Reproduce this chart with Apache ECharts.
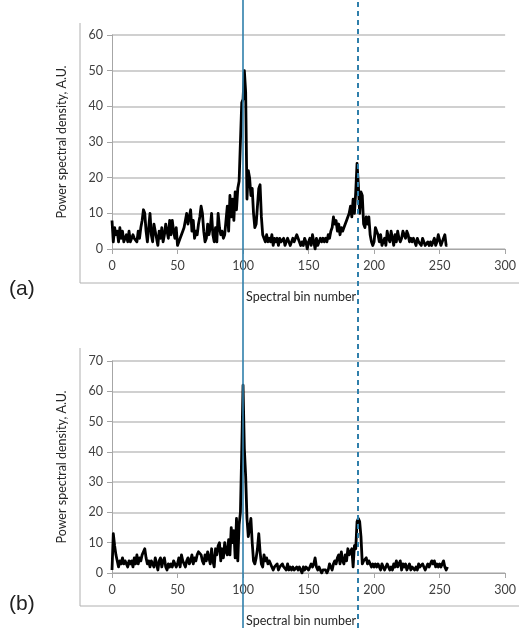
<!DOCTYPE html>
<html><head><meta charset="utf-8">
<script src="https://cdn.jsdelivr.net/npm/echarts@6/dist/echarts.min.js"></script>
<style>html,body{margin:0;padding:0;background:#fff}#c{width:519px;height:628px}</style>
</head><body><div id="c"></div>
<script>
// Panel (a): power spectral density per spectral bin (bins 0..256)
const psdA = [
 8,2,6,4,5,2,6,3,5,2,
 3,4,2,5,2,3,4,3,3,2,
 5,3,6,8,11,10,5,2,6,10,
 4,2,7,5,3,1,5,3,6,2,
 4,7,5,3,8,4,8,5,3,6,
 1,1,3,4,5,6,8,10,7,9,
 11,5,8,3,5,4,7,9,12,10,
 5,2,3,7,4,6,10,4,2,6,
 2,10,6,4,5,3,4,4,12,5,
 15,9,14,8,16,11,17,19,30,41,
 42,50,44,14,22,20,15,17,10,6,
 7,12,17,18,9,4,3,2,4,2,
 3,2,4,1,3,2,3,1,3,2,
 2,3,1,2,3,2,1,2,3,2,
 3,4,3,2,1,2,1,3,2,0,
 2,3,1,4,2,0,3,1,2,3,
 2,3,2,3,2,4,3,5,6,9,
 7,8,5,7,4,6,5,6,7,8,
 8,10,12,9,14,10,16,24,18,10,
 16,15,7,6,9,7,9,4,2,1,
 2,6,5,4,2,4,1,2,3,1,
 5,3,2,5,3,1,4,2,5,3,
 2,3,5,4,3,5,4,2,3,2,
 3,2,1,3,2,2,1,3,2,1,
 1,2,1,2,1,1,3,1,2,4,
 4,1,2,3,4,1,1
];
// Panel (b)
const psdB = [
 1,13,9,6,6,2,4,3,5,3,
 4,3,2,4,3,4,2,5,3,6,
 3,5,4,6,7,8,5,3,4,2,
 4,3,2,5,3,1,4,5,2,4,
 5,2,1,3,2,3,2,4,3,2,
 3,5,2,6,4,3,2,4,5,3,
 4,6,3,5,4,6,7,7,6,4,
 3,6,4,7,5,3,8,4,2,8,
 6,9,10,4,8,5,10,7,6,11,
 6,15,10,14,5,18,4,16,20,40,
 62,41,32,18,12,15,18,10,4,3,
 5,8,13,7,3,2,6,4,5,3,
 4,3,2,1,2,2,3,1,2,2,
 3,2,2,1,3,1,2,1,2,1,
 1,2,1,2,1,0,2,1,2,2,
 1,2,3,2,3,5,2,1,2,1,
 0,1,1,1,0,1,3,2,1,3,
 4,3,5,6,3,7,4,3,6,4,
 8,6,7,8,2,9,8,17,18,17,
 12,3,4,4,5,3,4,3,2,3,
 2,3,2,3,2,1,3,2,1,2,
 3,2,1,2,1,3,2,4,2,3,
 4,1,3,2,3,1,2,3,1,2,
 2,1,2,1,3,2,2,3,2,1,
 2,3,2,3,4,3,4,2,3,2,
 3,2,3,4,2,1,2
];
const xMin = 0, xMax = 300, xStep = 50;
const yMaxA = 60, yMaxB = 70, yStep = 10;
const markerBins = [99.2, 186.6];
const panelLabels = ['(a)', '(b)'];
const xName = 'Spectral bin number';
const yName = 'Power spectral density, A.U.';

const FONT = 'Lato, "Open Sans", sans-serif';
const gridCol = '#c0c0c0', axisCol = '#a6a6a6', txtCol = '#404040';

function xAx(gi) {
  return {
    type: 'value', gridIndex: gi, min: xMin, max: xMax, interval: xStep,
    axisLine: { show: true, onZero: false, lineStyle: { color: axisCol, width: 1 } },
    axisTick: { show: true, length: 5, lineStyle: { color: axisCol } },
    splitLine: { show: false },
    axisLabel: { color: txtCol, fontSize: 12.5, fontFamily: FONT, margin: 10 },
    name: xName, nameLocation: 'middle', nameGap: 41,
    nameTextStyle: { color: '#262626', fontSize: 12.5, fontFamily: FONT, padding: [0, 15, 0, 0] }
  };
}
function yAx(gi, max) {
  return {
    type: 'value', gridIndex: gi, min: 0, max: max, interval: yStep,
    axisLine: { show: true, lineStyle: { color: axisCol, width: 1 } },
    axisTick: { show: true, length: 5, lineStyle: { color: axisCol } },
    splitLine: { show: true, lineStyle: { color: gridCol, width: 1.5 } },
    axisLabel: { color: txtCol, fontSize: 12.5, fontFamily: FONT, margin: 9 },
    name: yName, nameLocation: 'middle', nameGap: 44,
    nameTextStyle: { color: '#262626', fontSize: 12.5, fontFamily: FONT }
  };
}
function lineSeries(arr, gi) {
  return {
    type: 'line', xAxisIndex: gi, yAxisIndex: gi,
    data: arr.map((v, i) => [i, v]),
    showSymbol: false, symbol: 'none', silent: true,
    lineStyle: { color: '#000', width: 2.8, join: 'round' }
  };
}

const chart = echarts.init(document.getElementById('c'), null, { renderer: 'canvas' });
chart.setOption({
  animation: false,
  backgroundColor: '#fff',
  grid: [
    { left: 112, right: 12, top: 35, height: 214 },
    { left: 112, right: 12, top: 361, height: 213 },
    { left: 112, right: 12, top: 0, bottom: 0 }
  ],
  xAxis: [xAx(0), xAx(1), { type: 'value', gridIndex: 2, min: xMin, max: xMax, show: false }],
  yAxis: [yAx(0, yMaxA), yAx(1, yMaxB), { type: 'value', gridIndex: 2, min: 0, max: 1, show: false }],
  series: [
    lineSeries(psdA, 0),
    lineSeries(psdB, 1),
    {
      type: 'line', xAxisIndex: 2, yAxisIndex: 2, data: [], silent: true, z: 10,
      markLine: {
        symbol: 'none', silent: true, animation: false,
        label: { show: false },
        data: [
          { xAxis: markerBins[0], lineStyle: { color: '#2f7fab', width: 1.6, type: 'solid' } },
          { xAxis: markerBins[1], lineStyle: { color: '#2f7fab', width: 2, type: [5, 4] } }
        ]
      }
    }
  ],
  graphic: [
    { type: 'polyline', shape: { points: [[80, 23], [80, 283], [519, 283]] }, style: { stroke: '#b0b0b0', fill: null, lineWidth: 1 }, silent: true },
    { type: 'polyline', shape: { points: [[80, 348], [80, 606], [519, 606]] }, style: { stroke: '#b0b0b0', fill: null, lineWidth: 1 }, silent: true },
    { type: 'text', left: 9, top: 279, style: { text: panelLabels[0], fontSize: 21, fontFamily: '"Liberation Sans", Arial, sans-serif', fill: '#222' }, silent: true },
    { type: 'text', left: 9, top: 594, style: { text: panelLabels[1], fontSize: 21, fontFamily: '"Liberation Sans", Arial, sans-serif', fill: '#222' }, silent: true }
  ]
});
</script></body></html>
